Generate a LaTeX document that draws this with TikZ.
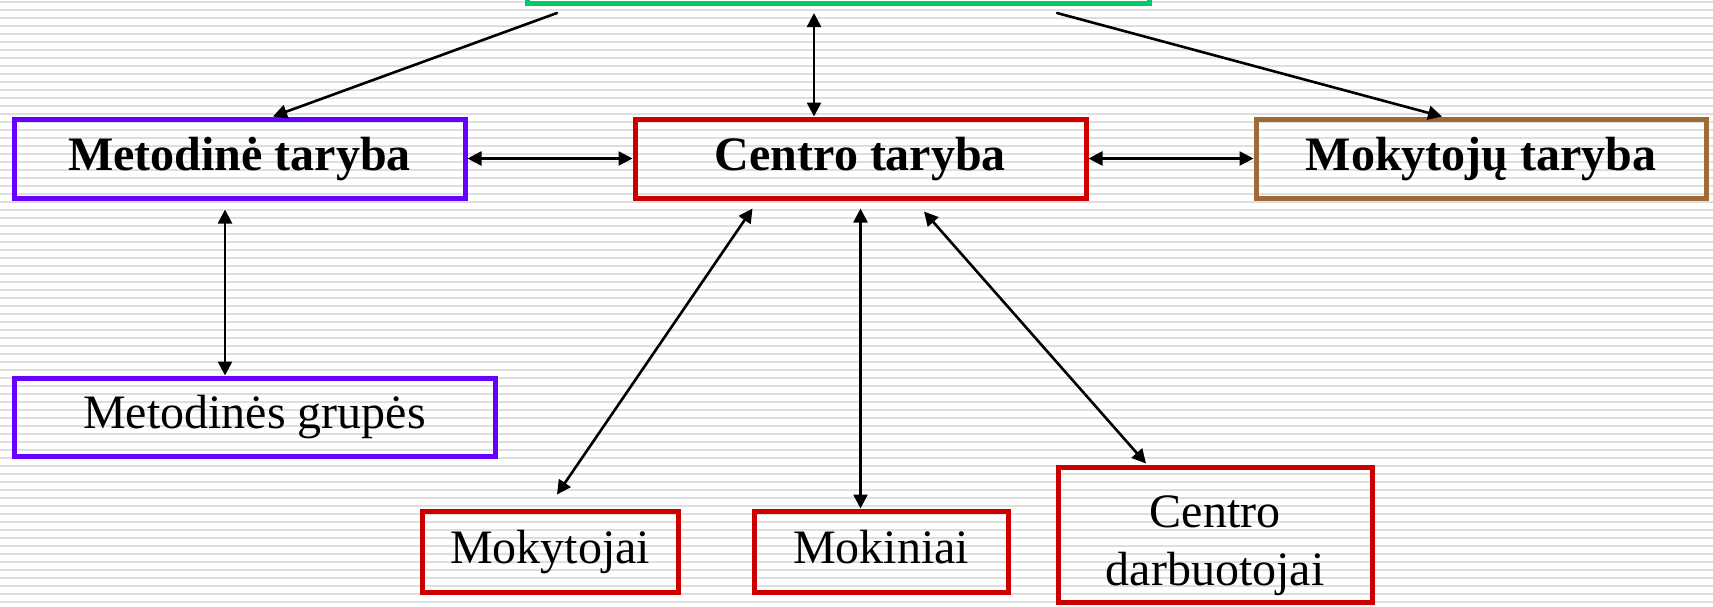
\documentclass[tikz,border=0pt]{standalone}
\usepackage{fontspec}
\setmainfont{Liberation Serif}
\usepackage{tikz}
\usetikzlibrary{arrows.meta,calc}
\definecolor{topgreen}{RGB}{0,204,102}
\definecolor{metviolet}{RGB}{102,0,255}
\definecolor{boxred}{RGB}{204,0,0}
\definecolor{mokbrown}{RGB}{160,105,56}
\definecolor{stripegray}{RGB}{222,222,222}
\begin{document}
\begin{tikzpicture}[line cap=round,line join=round,>={Triangle[length=7pt,width=7pt]},x=0.5pt,y=-0.5pt,
  box/.style={draw,line width=2.5pt,line cap=butt,line join=miter,inner sep=0pt,align=center,font=\fontsize{24}{29}\selectfont},
  oneline/.style={box,execute at begin node=\strut},
  conn/.style={<->,line width=1.3pt},
  feed/.style={->,line width=1.3pt}]
\useasboundingbox (0,0) rectangle (1713,606);
\clip (0,0) rectangle (1713,606);
\foreach \y in {2,10,...,606}
  \draw[stripegray,line width=1pt] (0,\y) -- (1713,\y);
\node[box,draw=topgreen,minimum width=311pt,minimum height=40pt,anchor=south] (top) at (838,5.5) {};
\node[oneline,draw=metviolet,minimum width=225.5pt,minimum height=39.5pt] (metaryba) at (239.5,158.5) {\bfseries Metodinė taryba};
\node[oneline,draw=boxred,minimum width=225.5pt,minimum height=39.5pt] (centras) at (860.5,158.5) {\bfseries Centro taryba};
\node[oneline,draw=mokbrown,minimum width=225pt,minimum height=39.5pt] (moktaryba) at (1481,158.5) {\bfseries Mokytojų taryba};
\node[oneline,draw=metviolet,minimum width=240.5pt,minimum height=39pt] (grupes) at (254.5,417) {Metodinės grupės};
\node[oneline,draw=boxred,minimum width=128pt,minimum height=40.5pt] (mokytojai) at (550,551.5) {Mokytojai};
\node[oneline,draw=boxred,minimum width=127pt,minimum height=40.5pt] (mokiniai) at (881,551.5) {Mokiniai};
\node[box,draw=boxred,minimum width=157pt,minimum height=67.5pt,text height=55pt,text depth=5pt] (darbuotojai) at (1215,535) {Centro\\darbuotojai};
\coordinate (g1) at (557,13);
\coordinate (g2) at (814,13);
\coordinate (g3) at (1057,13);
\draw[feed] (g1) -- ($(metaryba.north)+(33.5,0)$);
\draw[conn] (g2) -- (g2 |- centras.north);
\draw[feed] (g3) -- ($(moktaryba.north)+(-39,0)$);
\draw[conn] (metaryba.east) -- (centras.west);
\draw[conn] (centras.east) -- (moktaryba.west);
\draw[conn] ($(metaryba.south)+(-14.5,9)$) -- ($(grupes.north)+(-29.5,0)$);
\draw[conn] ($(centras.south)+(-108,8)$) -- ($(mokytojai.north)+(7,-14)$);
\draw[conn] ($(centras.south)+(0,8)$) -- (centras.south |- mokiniai.north);
\draw[conn] ($(centras.south)+(63.5,11)$) -- ($(darbuotojai.north)+(-69,-1.5)$);
\end{tikzpicture}
\end{document}
